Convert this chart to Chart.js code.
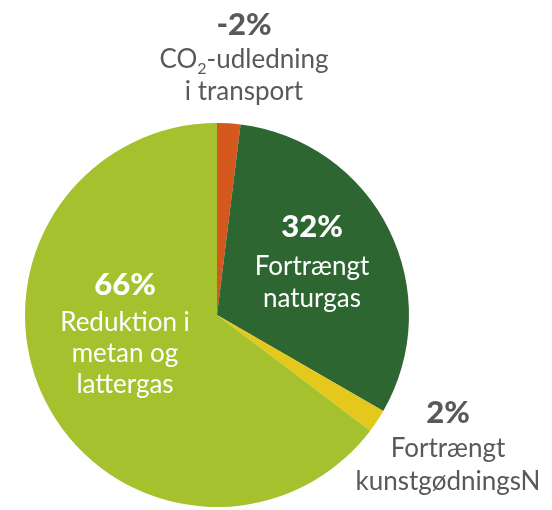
<!DOCTYPE html>
<html lang="da">
<head>
    <meta charset="UTF-8">
    <title>Klimaeffekt</title>
    <script src="https://cdn.jsdelivr.net/npm/chart.js"></script>
    <style>
        body {
            margin: 0;
            padding: 0;
            background: #ffffff;
        }
        canvas {
            display: block;
        }
    </style>
</head>
<body>
<canvas id="pieChart" width="552" height="510"></canvas>
<script>
    // Data
    var categories = ['CO2-udledning i transport', 'Fortrængt naturgas', 'Fortrængt kunstgødningsN', 'Reduktion i metan og lattergas'];
    var shares = [2, 32, 2, 66];
    var shareLabels = ['-2%', '32%', '2%', '66%'];
    var sliceColors = ['#d5581f', '#2e6631', '#e4c81c', '#a5c12e'];

    // tekstlinjer under procenterne (CO2 tegnes særskilt pga. sænket 2-tal)
    var textLines = [
        ['CO|2|-udledning', 'i transport'],
        ['Fortrængt', 'naturgas'],
        ['Fortrængt', 'kunstgødningsN'],
        ['Reduktion i', 'metan og', 'lattergas']
    ];

    // placering af etiketterne: x, baseline for procent, første tekstlinje, linjeafstand
    var anchors = [
        { x: 244, pctY: 35, textY: 68, step: 32, color: '#58595b' },
        { x: 312, pctY: 237, textY: 275, step: 32, color: '#ffffff' },
        { x: 448, pctY: 423, textY: 457, step: 33, color: '#58595b' },
        { x: 125, pctY: 295, textY: 331, step: 31, color: '#ffffff' }
    ];

    var FONT = 'Lato, "Open Sans", sans-serif';

    var labelPlugin = {
        id: 'sliceLabels',
        afterDatasetsDraw: function(chart) {
            var c = chart.ctx;
            c.save();
            c.textBaseline = 'alphabetic';
            for (var i = 0; i < shareLabels.length; i++) {
                var a = anchors[i];
                c.fillStyle = a.color;
                c.textAlign = 'center';
                c.font = '900 31px ' + FONT;
                c.fillText(shareLabels[i], a.x, a.pctY);
                c.font = '26px ' + FONT;
                for (var j = 0; j < textLines[i].length; j++) {
                    var line = textLines[i][j];
                    var y = a.textY + j * a.step;
                    if (line.indexOf('|') >= 0) {
                        // CO₂ med sænket 2
                        var parts = line.split('|');
                        c.font = '26px ' + FONT;
                        var w1 = c.measureText(parts[0]).width;
                        var w3 = c.measureText(parts[2]).width;
                        c.font = '16px ' + FONT;
                        var w2 = c.measureText(parts[1]).width;
                        var x0 = a.x - (w1 + w2 + w3) / 2;
                        c.textAlign = 'left';
                        c.font = '26px ' + FONT;
                        c.fillText(parts[0], x0, y);
                        c.font = '16px ' + FONT;
                        c.fillText(parts[1], x0 + w1, y + 6);
                        c.font = '26px ' + FONT;
                        c.fillText(parts[2], x0 + w1 + w2, y);
                        c.textAlign = 'center';
                    } else {
                        c.fillText(line, a.x, y);
                    }
                }
            }
            c.restore();
        }
    };

    var ctx = document.getElementById('pieChart').getContext('2d');
    var pieChart = new Chart(ctx, {
        type: 'pie',
        data: {
            labels: categories,
            datasets: [{
                data: shares,
                backgroundColor: sliceColors,
                borderWidth: 0
            }]
        },
        options: {
            responsive: false,
            animation: false,
            layout: {
                padding: { left: 25, top: 123, right: 143, bottom: 3 }
            },
            plugins: {
                legend: { display: false },
                tooltip: { enabled: false }
            }
        },
        plugins: [labelPlugin]
    });
</script>
</body>
</html>
